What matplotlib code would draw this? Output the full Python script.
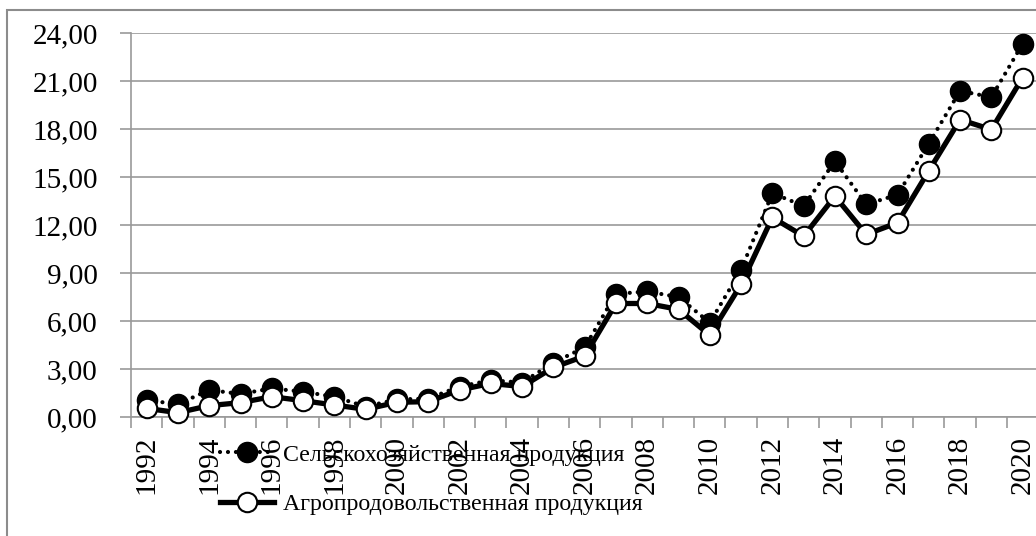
import matplotlib
matplotlib.use('Agg')
import matplotlib.pyplot as plt
from matplotlib.patches import Rectangle

plt.rcParams['font.family'] = ['Liberation Serif', 'DejaVu Serif']

years = list(range(1992, 2021))
selkhoz = [1.05, 0.8, 1.69, 1.44, 1.79, 1.58, 1.27, 0.65, 1.1, 1.15,
           1.9, 2.3, 2.15, 3.4, 4.35, 7.7, 7.85, 7.5, 5.9,
           9.2, 14.0, 13.2, 16.0, 13.3, 13.9, 17.1, 20.4, 20.0, 23.35]
agro = [0.54, 0.27, 0.71, 0.90, 1.27, 1.02, 0.75, 0.48, 0.92, 0.96,
        1.69, 2.1, 1.9, 3.1, 3.81, 7.1, 7.1, 6.73, 5.12,
        8.29, 12.48, 11.31, 13.81, 11.42, 12.15, 15.4, 18.6, 17.98, 21.23]
yticks = [0, 3, 6, 9, 12, 15, 18, 21, 24]
names = ['Сельскохозяйственная продукция', 'Агропродовольственная продукция']

W, H = 1036, 536
fig = plt.figure(figsize=(W / 100, H / 100), dpi=100)
ax = fig.add_axes([131 / W, (H - 417) / H, 907.3 / W, (417 - 33.3) / H])

# outer chart frame (right and bottom edges fall outside the picture)
fig.patches.append(Rectangle((7 / W, -0.1), 1.2, (H - 10) / H + 0.1,
                             transform=fig.transFigure, fill=False,
                             ec='#8c8c8c', lw=1.5))

gray = '#999999'
x = list(range(len(years)))

ax.plot(x, selkhoz, color='black', lw=3, linestyle=(0, (0.01, 1.9)),
        dash_capstyle='round', marker='o', ms=14.5, mfc='black', mec='black',
        clip_on=False, label=names[0], zorder=3)
ax.plot(x, agro, color='black', lw=3.8, marker='o', ms=14, mfc='white',
        mec='black', mew=1.5, clip_on=False, label=names[1], zorder=4)

ax.set_xlim(-0.5, len(years) - 0.5)
ax.set_ylim(0, 24)
ax.set_yticks(yticks, [f'{v:.2f}'.replace('.', ',') for v in yticks])
ax.set_xticks(x[::2], [str(y) for y in years[::2]], rotation=90)
ax.set_xticks([i - 0.5 for i in range(len(years) + 1)], minor=True)

ax.tick_params(axis='x', which='major', length=0, pad=13.5, labelsize=21)
ax.tick_params(axis='x', which='minor', length=8, width=1.2, color=gray)
ax.tick_params(axis='y', length=8, width=1.2, color=gray, pad=16, labelsize=21)

ax.grid(axis='y', color=gray, lw=1.2)
ax.set_axisbelow(True)
for s in ['top', 'right']:
    ax.spines[s].set_visible(False)
for s in ['left', 'bottom']:
    ax.spines[s].set_color(gray)
    ax.spines[s].set_linewidth(1.2)

ax.legend(loc='upper left', bbox_to_anchor=(220 / W, (H - 444) / H),
          bbox_transform=fig.transFigure, frameon=False, fontsize=17.2,
          borderpad=0, borderaxespad=0, handlelength=2.25,
          handletextpad=0.38, labelspacing=1.15)

fig.savefig('out.png', dpi=100)
